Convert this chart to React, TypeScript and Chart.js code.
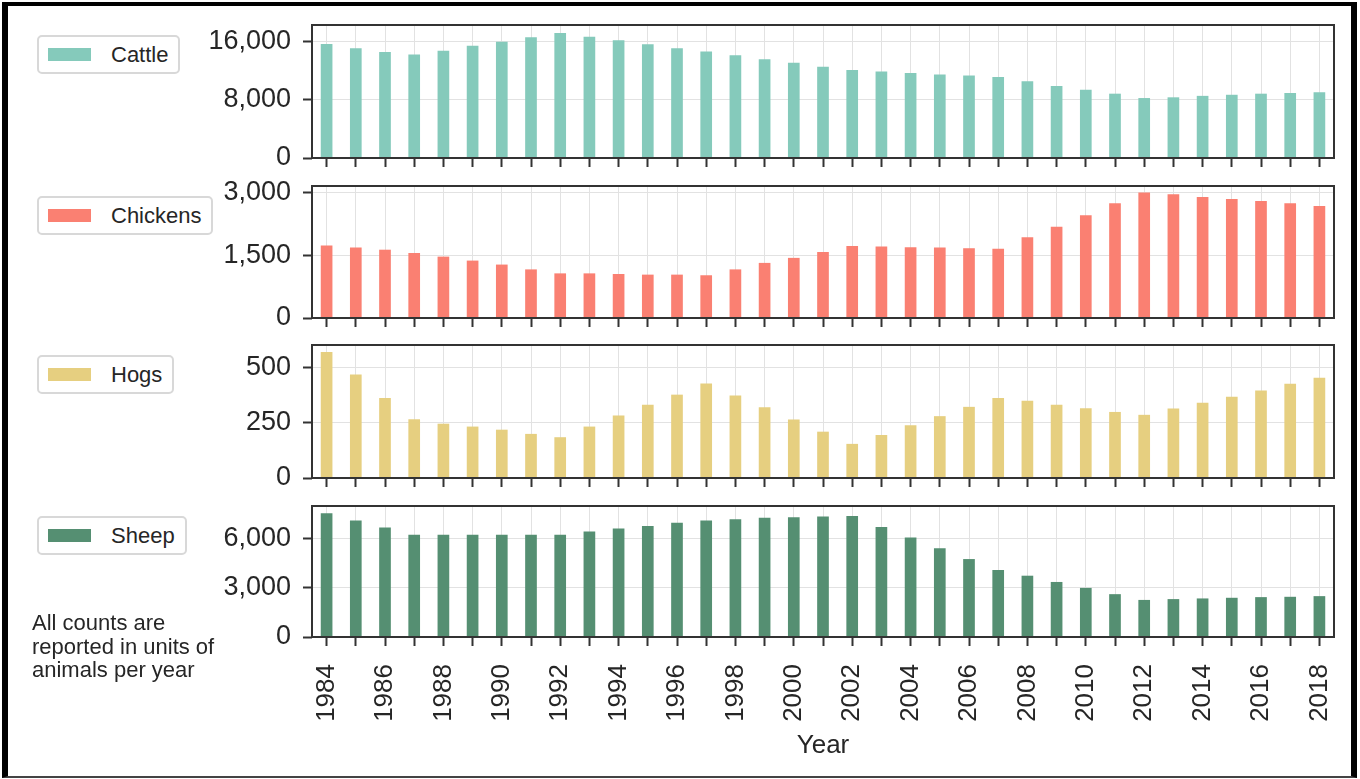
import React, { useEffect, useRef } from 'react';
import { Chart, registerables } from 'chart.js';

Chart.register(...registerables);

const years = [
  '1984', '1985', '1986', '1987', '1988', '1989', '1990', '1991', '1992', '1993',
  '1994', '1995', '1996', '1997', '1998', '1999', '2000', '2001', '2002', '2003',
  '2004', '2005', '2006', '2007', '2008', '2009', '2010', '2011', '2012', '2013',
  '2014', '2015', '2016', '2017', '2018',
];

const cattle = [
  15700, 15100, 14600, 14250, 14750, 15450, 16000, 16600, 17200, 16700,
  16200, 15650, 15100, 14650, 14150, 13600, 13100, 12550, 12100, 11900,
  11700, 11500, 11350, 11150, 10550, 9900, 9400, 8850, 8250, 8350,
  8550, 8700, 8850, 8950, 9050,
];

const chickens = [
  1730, 1680, 1630, 1550, 1465, 1370, 1275, 1160, 1065, 1065,
  1050, 1035, 1035, 1020, 1160, 1315, 1435, 1575, 1720, 1705,
  1690, 1680, 1665, 1650, 1925, 2180, 2450, 2740, 2995, 2955,
  2890, 2840, 2795, 2740, 2675,
];

const hogs = [
  568, 467, 361, 265, 245, 232, 218, 199, 184, 232,
  282, 330, 376, 426, 372, 319, 264, 209, 154, 194,
  238, 279, 321, 361, 348, 330, 315, 298, 285, 313,
  339, 366, 395, 425, 452,
];

const sheep = [
  7510, 7070, 6640, 6200, 6200, 6200, 6200, 6200, 6200, 6400,
  6580, 6740, 6930, 7070, 7150, 7230, 7270, 7310, 7350, 6680,
  6040, 5380, 4730, 4070, 3720, 3340, 2980, 2600, 2250, 2300,
  2340, 2380, 2420, 2440, 2480,
];

const cattleTicks = [0, 8000, 16000];
const chickenTicks = [0, 1500, 3000];
const hogTicks = [0, 250, 500];
const sheepTicks = [0, 3000, 6000];

const noteLines = ['All counts are', 'reported in units of', 'animals per year'];

const FONT = '"Liberation Sans", Arial, Helvetica, sans-serif';
const TEXT = '#262626';
const AXIS = '#333333';
const GRID = '#e2e2e2';

const framePlugin = {
  id: 'panelFrame',
  afterDraw(chart: any) {
    const { ctx, chartArea: a } = chart;
    ctx.save();
    ctx.strokeStyle = AXIS;
    ctx.lineWidth = 2;
    ctx.strokeRect(a.left, a.top, a.right - a.left, a.bottom - a.top);
    ctx.restore();
  },
};

type PanelProps = {
  label: string;
  data: number[];
  color: string;
  ticks: number[];
  max: number;
  top: number;
  height: number;
  last?: boolean;
};

const PAD_TOP = 20;

function Panel({ label, data, color, ticks, max, top, height, last }: PanelProps) {
  const ref = useRef<HTMLCanvasElement | null>(null);
  const xAxisH = last ? 138 : 9;
  const padBottom = last ? 0 : 2;
  const canvasH = PAD_TOP + height + xAxisH + padBottom;

  useEffect(() => {
    if (!ref.current) return;
    const chart = new Chart(ref.current, {
      type: 'bar',
      data: {
        labels: years,
        datasets: [
          {
            label,
            data,
            backgroundColor: color,
            borderWidth: 0,
            barPercentage: 0.4,
            categoryPercentage: 1.0,
          },
        ],
      },
      options: {
        responsive: false,
        maintainAspectRatio: false,
        animation: false,
        devicePixelRatio: 1,
        layout: { padding: { left: 200, right: 26, top: PAD_TOP, bottom: padBottom } },
        plugins: {
          legend: { display: false },
          tooltip: { enabled: false },
        },
        scales: {
          x: {
            offset: true,
            grid: {
              offset: false,
              color: GRID,
              lineWidth: 1,
              drawTicks: true,
              tickLength: 9,
              tickColor: AXIS,
              tickWidth: 2,
            },
            border: { display: false },
            ticks: last
              ? {
                  display: true,
                  autoSkip: false,
                  minRotation: 90,
                  maxRotation: 90,
                  padding: 18,
                  color: TEXT,
                  font: { family: FONT, size: 26 },
                  callback: (_v: any, i: number) => (i % 2 === 0 ? years[i] : ''),
                }
              : { display: false, autoSkip: false },
            title: last
              ? {
                  display: true,
                  text: 'Year',
                  color: TEXT,
                  font: { family: FONT, size: 26 },
                  padding: { top: 0, bottom: 14 },
                }
              : { display: false },
            afterFit: (s: any) => {
              s.height = xAxisH;
              s.paddingLeft = 0;
              s.paddingRight = 0;
              s.paddingTop = 0;
              s.paddingBottom = 0;
            },
          },
          y: {
            min: 0,
            max,
            grid: {
              color: GRID,
              lineWidth: 1,
              drawTicks: true,
              tickLength: 9,
              tickColor: AXIS,
              tickWidth: 2,
            },
            border: { display: false },
            ticks: {
              padding: 12,
              color: TEXT,
              font: { family: FONT, size: 27 },
              callback: (v: any) => Number(v).toLocaleString('en-US'),
            },
            afterBuildTicks: (s: any) => {
              s.ticks = ticks.map((v) => ({ value: v }));
            },
            afterFit: (s: any) => {
              s.width = 112;
              s.paddingTop = 0;
              s.paddingBottom = 0;
              s.paddingLeft = 0;
              s.paddingRight = 0;
            },
          },
        },
      },
      plugins: [framePlugin],
    });
    return () => chart.destroy();
  }, []);

  return (
    <>
      <canvas
        ref={ref}
        width={1360}
        height={canvasH}
        style={{ position: 'absolute', left: 0, top: top - PAD_TOP, width: 1360, height: canvasH }}
      />
      <div
        style={{
          position: 'absolute',
          left: 37,
          top: top + 10,
          height: 39,
          boxSizing: 'border-box',
          border: '2px solid #d8d8d8',
          borderRadius: 5,
          background: '#fff',
          display: 'flex',
          alignItems: 'center',
          paddingLeft: 9,
          paddingRight: 10,
          fontFamily: FONT,
          fontSize: 22,
          color: TEXT,
          zIndex: 2,
        }}
      >
        <span style={{ display: 'inline-block', width: 43, height: 13, background: color, marginRight: 20 }} />
        <span>{label}</span>
      </div>
    </>
  );
}

export default function App() {
  return (
    <div style={{ position: 'absolute', left: 0, top: 0, width: 1360, height: 779, background: '#fff', overflow: 'hidden' }}>
      <div
        style={{
          position: 'absolute',
          left: 2,
          top: 2,
          width: 1355,
          height: 776,
          boxSizing: 'border-box',
          borderLeft: '6px solid #000',
          borderTop: '4px solid #000',
          borderRight: '6px solid #000',
          borderBottom: '2px solid #444',
        }}
      />
      <Panel label="Cattle" data={cattle} color="#85cabb" ticks={cattleTicks} max={18300} top={25} height={133} />
      <Panel label="Chickens" data={chickens} color="#fa8072" ticks={chickenTicks} max={3150} top={186} height={132} />
      <Panel label="Hogs" data={hogs} color="#e6cf80" ticks={hogTicks} max={600} top={345} height={133} />
      <Panel label="Sheep" data={sheep} color="#558f72" ticks={sheepTicks} max={7950} top={506} height={131} last />
      <div
        style={{
          position: 'absolute',
          left: 32,
          top: 611,
          fontFamily: FONT,
          fontSize: 22,
          lineHeight: '23.5px',
          color: TEXT,
          zIndex: 2,
        }}
      >
        {noteLines.map((t) => (
          <div key={t}>{t}</div>
        ))}
      </div>
    </div>
  );
}
